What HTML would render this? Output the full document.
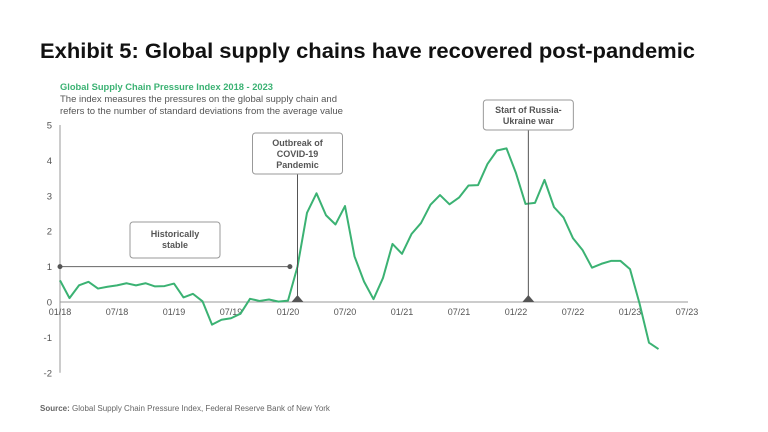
<!DOCTYPE html>
<html><head><meta charset="utf-8"><style>
body{margin:0;background:#fff;width:768px;height:432px;overflow:hidden}
svg{display:block;font-family:"Liberation Sans",sans-serif}
</style></head><body>
<svg id="chart" width="768" height="432" viewBox="0 0 768 432">
<text x="40" y="58" font-size="21" font-weight="bold" fill="#111" textLength="655" lengthAdjust="spacingAndGlyphs">Exhibit 5: Global supply chains have recovered post-pandemic</text>
<text x="60" y="90" font-size="9.5" font-weight="bold" fill="#3bb273" textLength="213" lengthAdjust="spacingAndGlyphs">Global Supply Chain Pressure Index 2018 - 2023</text>
<text x="60" y="102" font-size="9.5" fill="#555" textLength="277" lengthAdjust="spacingAndGlyphs">The index measures the pressures on the global supply chain and</text>
<text x="60" y="114" font-size="9.5" fill="#555" textLength="283" lengthAdjust="spacingAndGlyphs">refers to the number of standard deviations from the average value</text>
<text x="40" y="411" font-size="8" fill="#666"><tspan font-weight="bold">Source:</tspan> Global Supply Chain Pressure Index, Federal Reserve Bank of New York</text>
<g id="plot"></g>
</svg>
<script>
const values=[0.61,0.11,0.47,0.57,0.38,0.43,0.47,0.53,0.47,0.53,0.44,0.45,0.52,0.13,0.23,0.02,-0.64,-0.5,-0.46,-0.33,0.09,0.03,0.07,0.01,0.04,1.0,2.52,3.07,2.45,2.19,2.71,1.29,0.58,0.08,0.68,1.64,1.36,1.92,2.23,2.75,3.02,2.76,2.95,3.29,3.3,3.9,4.28,4.34,3.64,2.77,2.8,3.45,2.68,2.39,1.8,1.47,0.97,1.08,1.16,1.16,0.93,-0.04,-1.15,-1.33];
const xTickLabels=["01/18","07/18","01/19","07/19","01/20","07/20","01/21","07/21","01/22","07/22","01/23","07/23"];
const yTicks=[5,4,3,2,1,0,-1,-2];
const events=[{m:25,lines:["Outbreak of","COVID-19","Pandemic"],name:"covid"},{m:49.3,lines:["Start of Russia-","Ukraine war"],name:"russia-ukraine"}];
const NS="http://www.w3.org/2000/svg";
const g=document.getElementById('plot');
const X=m=>60+m*9.5;
const Y=v=>302-v*35.4;
function el(t,a,p){const e=document.createElementNS(NS,t);for(const k in a)e.setAttribute(k,a[k]);(p||g).appendChild(e);return e;}
let e=el('line',{x1:60,x2:60,y1:Y(5),y2:Y(-2),stroke:'#ccc','stroke-width':2});


e=el('line',{x1:60,x2:688,y1:Y(0),y2:Y(0),stroke:'#999','stroke-width':1});


yTicks.forEach(v=>{const t=el('text',{x:52,y:Y(v)+3.5,'font-size':9.5,fill:'#555','text-anchor':'end'});t.textContent=v;

});
xTickLabels.forEach((s,i)=>{const t=el('text',{x:X(i*6),y:315,'font-size':9,fill:'#555','text-anchor':'middle'});t.textContent=s;

});
e=el('line',{x1:X(0),x2:X(24.2),y1:Y(1),y2:Y(1),stroke:'#666','stroke-width':1});


[X(0),X(24.2)].forEach(x=>{const c=el('circle',{cx:x,cy:Y(1),r:2.5,fill:'#555'});

});
e=el('rect',{x:130,y:222,width:90,height:36,rx:3,fill:'#fff',stroke:'#999'});


["Historically","stable"].forEach((s,i)=>{const t=el('text',{x:175,y:237+i*11,'font-size':9,'font-weight':'bold',fill:'#555','text-anchor':'middle'});t.textContent=s;

});
const pts=values.map((v,i)=>X(i)+','+Y(v)).join(' ');
e=el('polyline',{points:pts,fill:'none',stroke:'#3bb273','stroke-width':2,'stroke-linejoin':'round'});


events.forEach(ev=>{const x=X(ev.m);const h=ev.lines.length*11+8;const top=ev.lines.length==3?133:100;
const l=el('line',{x1:x,x2:x,y1:top+h,y2:Y(0),stroke:'#555','stroke-width':1});


const tr=el('polygon',{points:`${x-6},${Y(0)} ${x+6},${Y(0)} ${x},${Y(0)-7}`,fill:'#555'});


const r=el('rect',{x:x-45,y:top,width:90,height:h,rx:3,fill:'#fff',stroke:'#999'});


ev.lines.forEach((s,i)=>{const t=el('text',{x:x,y:top+13+i*11,'font-size':9,'font-weight':'bold',fill:'#555','text-anchor':'middle'});t.textContent=s;

});});
</script>
</body></html>
